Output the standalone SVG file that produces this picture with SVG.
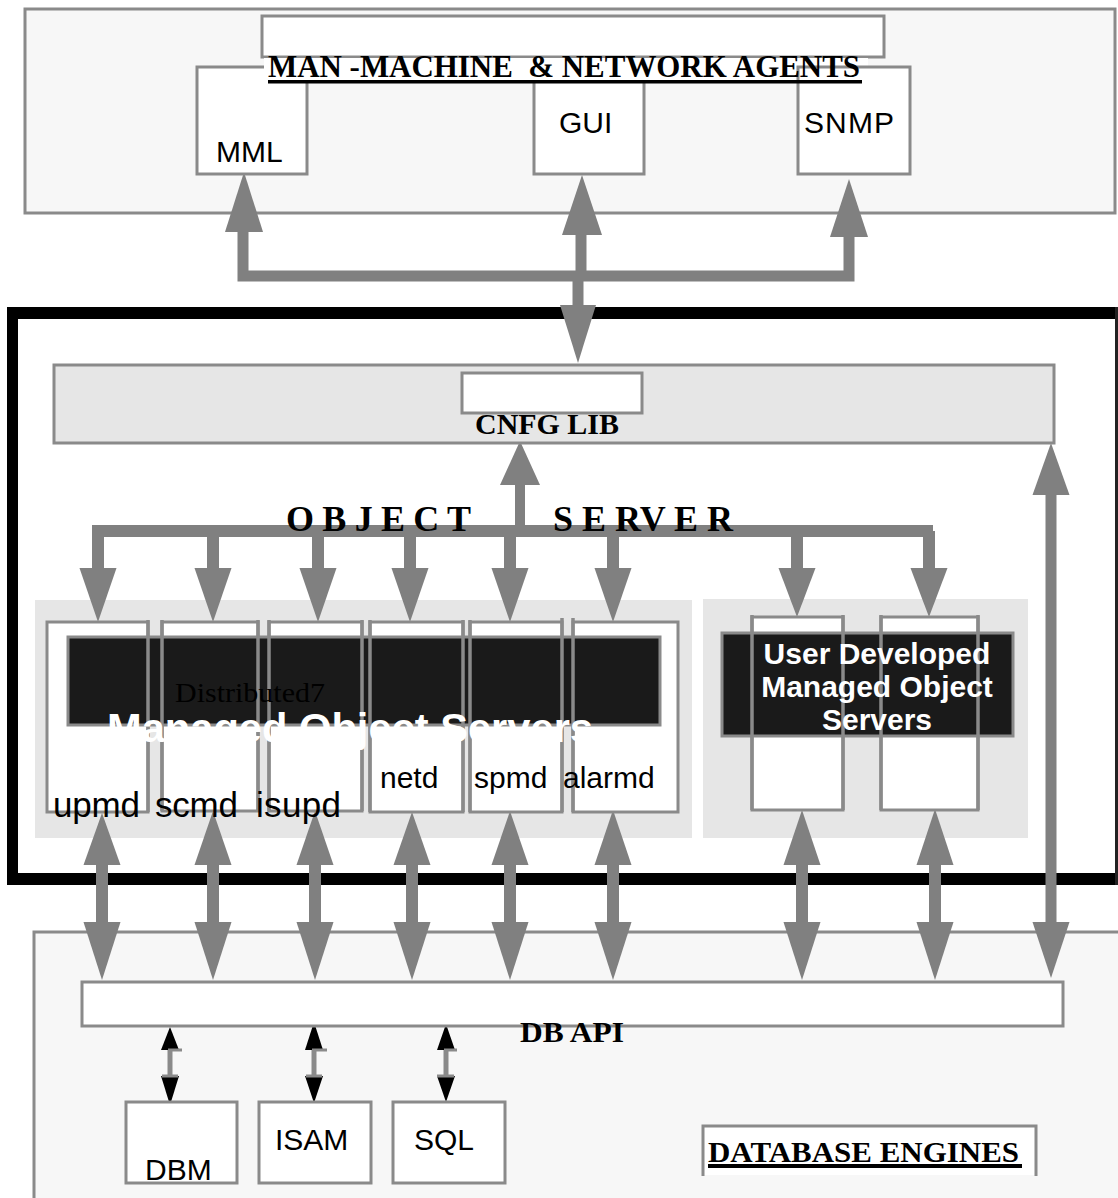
<svg xmlns="http://www.w3.org/2000/svg" width="1118" height="1198" viewBox="0 0 1118 1198">
<style>
.bx{fill:#fff;stroke:#8a8a8a;stroke-width:3}
.ln{fill:none;stroke:#8a8a8a;stroke-width:3.5}
.ah{fill:#808080}
.bh{fill:#000}
.sh{fill:none;stroke:#808080;stroke-width:12;stroke-linejoin:miter}
.band{fill:#1a1a1a;stroke:#8a8a8a;stroke-width:3}
.sans{font-family:"Liberation Sans",Arial,sans-serif}
.serif{font-family:"Liberation Serif","Times New Roman",serif}
.lbl{font-family:"Liberation Sans",Arial,sans-serif;font-size:30px;fill:#000}
.hd{font-family:"Liberation Serif","Times New Roman",serif;font-weight:bold;fill:#000}
.wt{font-family:"Liberation Sans",Arial,sans-serif;font-weight:bold;fill:#fff}
</style>

<!-- containers -->
<g id="agents-container">
<rect x="25" y="9" width="1090" height="204" fill="#f7f7f7" stroke="#8a8a8a" stroke-width="3"/>
</g>
<g id="object-server-frame">
<rect x="7" y="307" width="1111" height="12" fill="#000"/>
<rect x="7" y="307" width="11" height="578" fill="#000"/>
<rect x="7" y="873" width="1111" height="12" fill="#000"/>
<rect x="1115" y="307" width="3" height="578" fill="#222"/>
</g>
<g id="mos-panel">
<rect x="35" y="600" width="657" height="238" fill="#e6e6e6"/>
</g>
<g id="udmos-panel">
<rect x="703" y="599" width="325" height="239" fill="#e6e6e6"/>
</g>
<g id="db-container">
<rect x="34" y="932" width="1100" height="280" fill="#f7f7f7" stroke="#8a8a8a" stroke-width="3"/>
</g>

<!-- connectors -->
<g id="connectors">
<!-- agents bus -->
<path class="sh" style="stroke-width:11" d="M243,232 V276 H849 V237"/>
<line class="sh" style="stroke-width:11" x1="581" y1="235" x2="581" y2="276"/>
<line class="sh" style="stroke-width:11" x1="578" y1="276" x2="578" y2="306"/>
<polygon class="ah" points="225,232 263,232 244,172"/>
<polygon class="ah" points="562,235 602,235 582,175"/>
<polygon class="ah" points="830,237 868,237 849,179"/>
<polygon class="ah" points="560,305 596,305 578,363"/>
<!-- object server bus -->
<line class="sh" x1="92" y1="531" x2="933" y2="531"/>
<line class="sh" style="stroke-width:10" x1="520" y1="531" x2="520" y2="485"/>
<polygon class="ah" points="500,485 540,485 520,441"/>
<g class="sh">
<line x1="98" y1="531" x2="98" y2="569"/>
<line x1="213" y1="531" x2="213" y2="569"/>
<line x1="318" y1="531" x2="318" y2="569"/>
<line x1="410" y1="531" x2="410" y2="569"/>
<line x1="510" y1="531" x2="510" y2="569"/>
<line x1="613" y1="531" x2="613" y2="569"/>
<line x1="797" y1="531" x2="797" y2="569"/>
<line x1="929" y1="531" x2="929" y2="569"/>
</g>
<polygon class="ah" points="79.5,568 116.5,568 98,622"/>
<polygon class="ah" points="194.5,568 231.5,568 213,622"/>
<polygon class="ah" points="299.5,568 336.5,568 318,622"/>
<polygon class="ah" points="391.5,568 428.5,568 410,622"/>
<polygon class="ah" points="491.5,568 528.5,568 510,622"/>
<polygon class="ah" points="594.5,568 631.5,568 613,622"/>
<polygon class="ah" points="778.5,568 815.5,568 797,617"/>
<polygon class="ah" points="910.5,568 947.5,568 929,617"/>
<text class="hd" x="286" y="531" font-size="36" textLength="185" lengthAdjust="spacing">O B J E C T</text>
<text class="hd" x="553" y="531" font-size="36" textLength="180" lengthAdjust="spacing">S E RV E R</text>
<!-- server to DB API double arrows -->
<g class="sh">
<line x1="102" y1="864" x2="102" y2="923"/>
<line x1="213" y1="864" x2="213" y2="923"/>
<line x1="315" y1="864" x2="315" y2="923"/>
<line x1="412" y1="864" x2="412" y2="923"/>
<line x1="510" y1="864" x2="510" y2="923"/>
<line x1="613" y1="864" x2="613" y2="923"/>
<line x1="802" y1="864" x2="802" y2="923"/>
<line x1="935" y1="864" x2="935" y2="923"/>
<line x1="1051" y1="494" x2="1051" y2="923" style="stroke-width:11"/>
</g>
<polygon class="ah" points="83.5,865 120.5,865 102,813"/>
<polygon class="ah" points="194.5,865 231.5,865 213,811"/>
<polygon class="ah" points="296.5,865 333.5,865 315,811"/>
<polygon class="ah" points="393.5,865 430.5,865 412,812"/>
<polygon class="ah" points="491.5,865 528.5,865 510,811"/>
<polygon class="ah" points="594.5,865 631.5,865 613,810"/>
<polygon class="ah" points="783.5,865 820.5,865 802,810"/>
<polygon class="ah" points="916.5,865 953.5,865 935,809"/>
<polygon class="ah" points="1032.5,495 1069.5,495 1051,443"/>
<polygon class="ah" points="83.5,922 120.5,922 102,980"/>
<polygon class="ah" points="194.5,922 231.5,922 213,980"/>
<polygon class="ah" points="296.5,922 333.5,922 315,980"/>
<polygon class="ah" points="393.5,922 430.5,922 412,980"/>
<polygon class="ah" points="491.5,922 528.5,922 510,980"/>
<polygon class="ah" points="594.5,922 631.5,922 613,980"/>
<polygon class="ah" points="783.5,922 820.5,922 802,980"/>
<polygon class="ah" points="916.5,922 953.5,922 935,980"/>
<polygon class="ah" points="1032.5,922 1069.5,922 1051,978"/>
<!-- DB API to engines -->
<g stroke="#8a8a8a" fill="none">
<line x1="170" y1="1050" x2="170" y2="1076" stroke-width="5"/>
<line x1="314" y1="1050" x2="314" y2="1076" stroke-width="5"/>
<line x1="446" y1="1050" x2="446" y2="1076" stroke-width="5"/>
</g>
<polygon class="bh" points="161,1050 179,1050 170,1027"/>
<polygon class="bh" points="161,1076 179,1076 170,1105"/>
<polygon class="bh" points="305,1050 323,1050 314,1022"/>
<polygon class="bh" points="305,1076 323,1076 314,1103"/>
<polygon class="bh" points="437,1050 455,1050 446,1024"/>
<polygon class="bh" points="437,1076 455,1076 446,1102"/>
<g stroke="#8a8a8a" stroke-width="3">
<line x1="168" y1="1050" x2="182" y2="1050"/>
<line x1="162" y1="1076" x2="178" y2="1076"/>
<line x1="312" y1="1050" x2="327" y2="1050"/>
<line x1="306" y1="1076" x2="322" y2="1076"/>
<line x1="444" y1="1050" x2="457" y2="1050"/>
<line x1="437" y1="1076" x2="454" y2="1076"/>
</g>
</g>

<!-- agent nodes -->
<g id="mml">
<rect class="bx" x="197" y="67" width="110" height="107"/>
<text class="lbl" x="216" y="162">MML</text>
</g>
<g id="gui">
<rect class="bx" x="534" y="67" width="110" height="107"/>
<text class="lbl" x="559" y="133">GUI</text>
</g>
<g id="agents-title">
<rect x="262" y="16" width="622" height="41" fill="#fff" stroke="#8a8a8a" stroke-width="3"/>
<rect x="264" y="58" width="604" height="25" fill="#fff"/>
</g>
<g id="snmp">
<rect class="bx" x="798" y="67" width="112" height="107"/>
<text class="lbl" x="804" y="133" textLength="90">SNMP</text>
</g>
<g id="agents-label">
<text class="hd" x="268" y="77" font-size="31" textLength="592" lengthAdjust="spacingAndGlyphs" style="white-space:pre">MAN -MACHINE  &amp; NETWORK AGENTS</text>
<rect x="268" y="80" width="594" height="3.5" fill="#000"/>
</g>

<!-- CNFG LIB -->
<g id="cnfg-lib">
<rect x="54" y="365" width="1000" height="78" fill="#e6e6e6" stroke="#8a8a8a" stroke-width="3"/>
<rect class="bx" x="462" y="373" width="180" height="40"/>
<text class="hd" x="475" y="434" font-size="30" textLength="144" lengthAdjust="spacingAndGlyphs">CNFG LIB</text>
</g>

<!-- distributed managed object servers -->
<g id="mos-servers">
<rect class="bx" x="47" y="622" width="101" height="190"/>
<rect class="bx" x="162" y="622" width="96" height="189"/>
<rect class="bx" x="269" y="622" width="93" height="189"/>
<rect class="bx" x="370" y="622" width="93" height="190"/>
<rect class="bx" x="470" y="622" width="92" height="190"/>
<rect class="bx" x="573" y="622" width="105" height="190"/>
<rect class="band" x="68" y="637" width="592" height="88"/>
<g class="ln">
<line x1="148" y1="620" x2="148" y2="812"/>
<line x1="162" y1="620" x2="162" y2="811"/>
<line x1="258" y1="620" x2="258" y2="811"/>
<line x1="269" y1="620" x2="269" y2="811"/>
<line x1="362" y1="620" x2="362" y2="811"/>
<line x1="370" y1="620" x2="370" y2="812"/>
<line x1="463" y1="620" x2="463" y2="812"/>
<line x1="470" y1="620" x2="470" y2="812"/>
<line x1="562" y1="618" x2="562" y2="812"/>
<line x1="573" y1="618" x2="573" y2="812"/>
</g>
<text class="serif" x="175" y="702" font-size="28" fill="#000" textLength="150" lengthAdjust="spacingAndGlyphs">Distributed7</text>
<text class="wt" x="107" y="742" font-size="40" textLength="486" lengthAdjust="spacingAndGlyphs">Managed Object Servers</text>
</g>
<g id="upmd"><text class="sans" x="53" y="817" font-size="35" textLength="87">upmd</text></g>
<g id="scmd"><text class="sans" x="155" y="817" font-size="35" textLength="83">scmd</text></g>
<g id="isupd"><text class="sans" x="256" y="817" font-size="35" textLength="85">isupd</text></g>
<g id="netd"><text class="lbl" x="380" y="788" font-size="32">netd</text></g>
<g id="spmd"><text class="lbl" x="474" y="788" font-size="32">spmd</text></g>
<g id="alarmd"><text class="lbl" x="563" y="788" font-size="32">alarmd</text></g>

<!-- user developed managed object servers -->
<g id="udmos">
<rect class="bx" x="752" y="617" width="91" height="193"/>
<rect class="bx" x="881" y="617" width="97" height="193"/>
<rect class="band" x="722" y="633" width="291" height="103"/>
<g class="ln">
<line x1="752" y1="615" x2="752" y2="810"/>
<line x1="843" y1="615" x2="843" y2="810"/>
<line x1="881" y1="615" x2="881" y2="810"/>
<line x1="978" y1="615" x2="978" y2="810"/>
</g>
<text class="wt" font-size="30" text-anchor="middle"><tspan x="877" y="664">User Developed</tspan><tspan x="877" y="697">Managed Object</tspan><tspan x="877" y="730">Servers</tspan></text>
</g>

<!-- DB API -->
<g id="db-api">
<rect class="bx" x="82" y="982" width="981" height="44"/>
<text class="hd" x="520" y="1042" font-size="30" textLength="104" lengthAdjust="spacingAndGlyphs">DB API</text>
</g>
<g id="dbm">
<rect class="bx" x="126" y="1102" width="111" height="81"/>
<text class="lbl" x="145" y="1180">DBM</text>
</g>
<g id="isam">
<rect class="bx" x="259" y="1102" width="112" height="81"/>
<text class="lbl" x="275" y="1150">ISAM</text>
</g>
<g id="sql">
<rect class="bx" x="393" y="1102" width="112" height="81"/>
<text class="lbl" x="414" y="1150">SQL</text>
</g>
<g id="database-engines">
<rect x="703" y="1126" width="333" height="49" fill="#fff"/>
<path class="ln" style="stroke-width:3" d="M703,1176 V1126 H1036 V1176"/>
<text class="hd" x="708" y="1162" font-size="30" textLength="311" lengthAdjust="spacingAndGlyphs">DATABASE ENGINES</text>
<rect x="708" y="1164" width="314" height="4" fill="#000"/>
</g>
</svg>
